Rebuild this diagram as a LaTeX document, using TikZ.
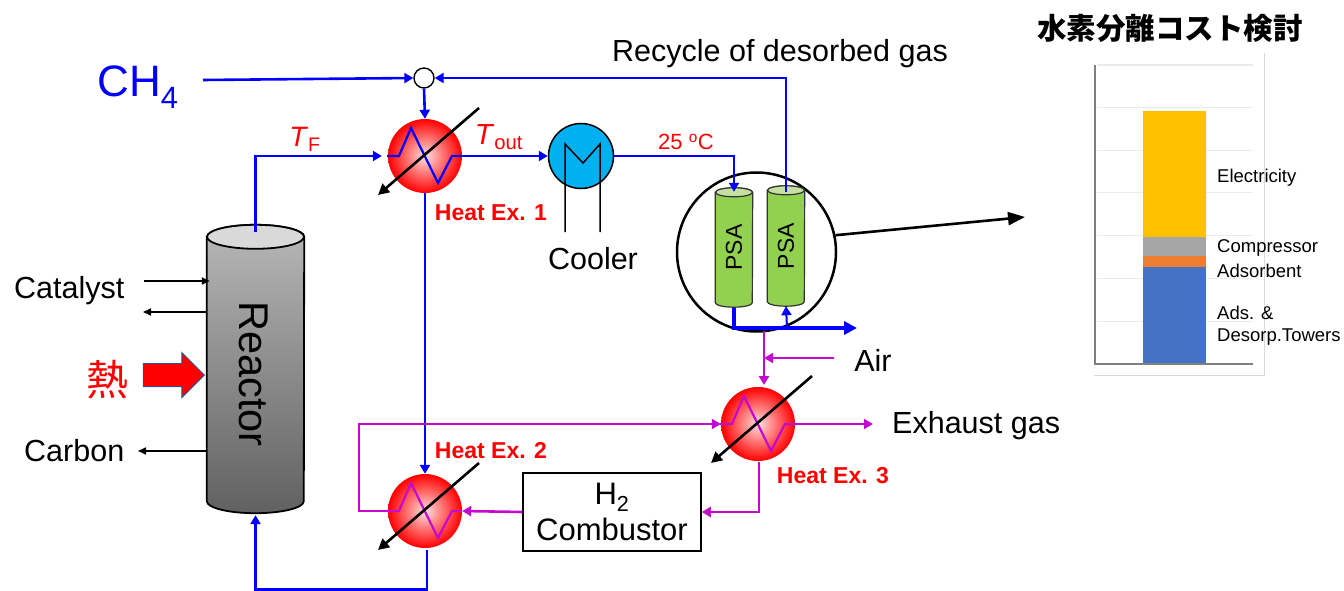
\documentclass[tikz,border=0pt]{standalone}
\usepackage{fontspec}
\setmainfont{Liberation Sans}
\newfontfamily\cjk{Noto Sans CJK JP}
\usetikzlibrary{arrows.meta,positioning,calc,shapes.geometric,shapes.arrows}
\definecolor{flow}{RGB}{0,0,255}
\definecolor{heat}{RGB}{196,10,208}
\definecolor{psagreen}{RGB}{146,208,80}
\definecolor{psacap}{RGB}{197,224,160}
\definecolor{coolblue}{RGB}{0,176,240}
\definecolor{c1}{RGB}{68,114,196}
\definecolor{c2}{RGB}{237,125,49}
\definecolor{c3}{RGB}{165,165,165}
\definecolor{c4}{RGB}{255,192,0}
\newcommand{\fsize}[1]{\fontsize{#1}{#1}\selectfont}
% can outline round a box node: name, radii, body style, cap style
\newcommand{\can}[5]{%
  \path[#4] ([yshift=-#3pt]#1.north west) -- ([yshift=#3pt]#1.south west)
    arc[start angle=180,end angle=360,x radius=#2pt,y radius=#3pt]
    -- ([yshift=-#3pt]#1.north east)
    arc[start angle=0,end angle=180,x radius=#2pt,y radius=#3pt] -- cycle;
  \path[#5] ([yshift=-#3pt]#1.north) ellipse (#2pt and #3pt);}

\begin{document}
\begin{tikzpicture}[x=1pt,y=-1pt,node distance=0pt,
  hxball/.style={circle,minimum size=74pt,inner sep=0pt,inner color=white!88!red,outer color=red},
  canbox/.style={rectangle,inner sep=0pt,minimum width=#1},
  flowline/.style={draw=flow,line width=2.6pt,-{Triangle[length=9pt,width=10pt]}},
  heatline/.style={draw=heat,line width=2.6pt,-{Triangle[length=9pt,width=10pt]}},
  thinline/.style={draw=black,line width=1.6pt,-{Triangle[length=8pt,width=7pt]}},
  txt/.style={inner sep=0pt,font=\fsize{30.5}},
  redlabel/.style={inner sep=0pt,text=red,font=\fsize{23}\bfseries},
  barlabel/.style={inner sep=0pt,anchor=west,font=\fsize{18.5}}]
  \useasboundingbox (0,0) rectangle (1344,591);

  % equipment
  \node (reactor) [canbox=97pt,minimum height=288pt] at (255.5,369) {};
  \can{reactor}{48.5}{12}{draw=black,line width=1.8pt,top color=black!28,bottom color=black!62}{draw=black,line width=1.8pt,fill=black!15}
  \node (reactortxt) [rotate=-90,inner sep=0pt,font=\fsize{41.5}] at (254,374) {Reactor};

  \node (mixer) [circle,draw=black,line width=1.4pt,fill=white,minimum size=20pt,inner sep=0pt] at (424,78) {};
  \node (hx1) [hxball] at (425,156) {};
  \node (hx2) [hxball] at (425,511) {};
  \node (hx3) [hxball] at (758,424) {};
  \node (cooler) [circle,draw=black,line width=1.5pt,fill=coolblue,minimum size=65pt,inner sep=0pt] at (581,156) {};
  \node (psaring) [circle,draw=black,line width=2.5pt,minimum size=159pt,inner sep=0pt] at (756.5,252) {};
  \node (psa1) [canbox=37pt,minimum height=119pt] at (734,247.5) {};
  \node (psa2) [canbox=37pt,minimum height=120pt] at (786,246) {};
  \foreach \n in {psa1,psa2}{
    \can{\n}{18.5}{4.5}{draw=black!80,line width=1.2pt,fill=psagreen}{draw=black!80,line width=1.2pt,fill=psacap}
    \node (\n txt) [rotate=90,inner sep=0pt,font=\fsize{23}] at (\n) {PSA};
  }
  \node (burner) [draw=black,line width=1.5pt,minimum width=178pt,minimum height=78pt,inner sep=0pt,
    align=center,font=\fsize{31}] at (612,512) {H\textsubscript{2}\\[5pt]Combustor};

  % coils and adjusters
  \foreach \hx/\col in {hx1/flow,hx2/heat,hx3/heat}{
    \draw[\col,line width=2.2pt,shift={(\hx)}] (-38,0) -- (-26,0) -- (-14,-28) -- (13,27) -- (27,0) -- (37,0);
    \draw[black,line width=2.6pt,-{Triangle[length=11pt,width=11pt]},shift={(\hx)}] (54,-48) -- (-47,39);
  }
  \draw[black,line width=1.5pt] (565,232) -- (565,144) -- (583,163) -- (600,144) -- (600,232);

  % free ends
  \coordinate (ch4in) at (203,80);
  \coordinate (psaout) at (857,328);
  \coordinate (airin) at (834,358);
  \coordinate (airjoin) at (764,358);
  \coordinate (exhaust) at (873,424);
  \coordinate (chart) at (1025,217);
  \coordinate (catin) at (144,281);
  \coordinate (catout) at (143,312);
  \coordinate (carbonout) at (138,451);

  % blue lines
  \draw[flowline] (ch4in) -- (mixer.west);
  \draw[flowline] (psa2.north) ++(0,6) |- (mixer.east);
  \draw[flowline] (mixer.south) -- (hx1.north);
  \draw[flowline,shorten >=6pt] (reactor.north) ++(0,7) |- (hx1.west);
  \draw[flowline] (hx1.east) -- (cooler.west);
  \draw[flowline] (cooler.east) -| ([yshift=-4pt]psa1.north);
  \draw[flowline] (hx1.south) -- (hx2.north);
  \draw[flowline] ([xshift=2pt,yshift=-2pt]hx2.south) -- ++(0,39) -| ([yshift=-2pt]reactor.south);
  \draw[draw=flow,line width=4.4pt,-{Triangle[length=13pt,width=13pt]}] (psa1.south) ++(0,1) |- (psaout);
  \draw[flowline,line width=2pt] (787,328) -- (psa2.south);

  % purple lines
  \draw[heatline] (764,331) -- (764,385);
  \draw[heatline,line width=1.6pt] (airin) -- (airjoin);
  \draw[heatline] (hx3.east) -- (exhaust);
  \draw[heatline] ([xshift=1pt,yshift=-1pt]hx3.south) |- (burner.east);
  \draw[heatline] (burner.west) -- (hx2.east);
  \draw[heatline] (hx2.west) -- ++(-29,0) |- (hx3.west);

  % black lines
  \draw[black,line width=2.6pt,-{Triangle[length=17pt,width=13pt]}] (psaring.12) -- (chart);
  \draw[thinline] (catin) -- ([xshift=3pt]reactor.west |- catin);
  \draw[thinline] (reactor.west |- catout) -- (catout);
  \draw[thinline] (reactor.west |- carbonout) -- (carbonout);
  \node (heatin) [single arrow,draw={rgb,255:red,47;green,82;blue,143},line width=1pt,fill=red,inner sep=0pt,
    text height=22pt,text depth=0pt,minimum height=61pt,single arrow head extend=11pt,single arrow tip angle=90,anchor=tip] at (205,375) {};

  % labels
  \node (ch4) [inner sep=0pt,text=flow,font=\fsize{44}] at (138,87) {CH\textsubscript{4}};
  \node (recycle) [txt] at (780,53.5) {Recycle of desorbed gas};
  \node (tf) [inner sep=0pt,text=red,font=\fsize{28}] at (305,139) {\textit{T}\textsubscript{F}};
  \node (tout) [inner sep=0pt,text=red,font=\fsize{29}] at (499,137) {\textit{T}\textsubscript{out}};
  \node (temp) [inner sep=0pt,text=red,font=\fsize{22}] at (686,142) {25 \textsuperscript{o}C};
  \node (coolertxt) [txt] at (593,259) {Cooler};
  \node (airtxt) [txt] at (873,360) {Air};
  \node (exhausttxt) [txt,anchor=west] at (892,426) {Exhaust gas};
  \node (cattxt) [txt,anchor=west] at (14,291) {Catalyst};
  \node (carbontxt) [txt,anchor=west] at (24,451) {Carbon};
  \node (netsu) [inner sep=0pt,text=red,font=\cjk\fsize{42}] at (107,380) {熱};
  \node (hx1txt) [redlabel] at (491,213) {Heat Ex. 1};
  \node (hx2txt) [redlabel] at (491,451) {Heat Ex. 2};
  \node (hx3txt) [redlabel] at (833,476) {Heat Ex. 3};

  % cost chart
  \node (title) [inner sep=0pt,font=\cjk\fsize{29.5}\bfseries] at (1170,28) {水素分離コスト検討};
  \draw[black!15,line width=1pt] (1264,53) -- (1264,375) -- (1094,375);
  \foreach \y in {65,107.7,150.3,192.7,235.7,278.3,321.3}{
    \draw[black!8,line width=1.2pt] (1097,\y) -- (1253,\y);
  }
  \fill[c1] (1143,267) rectangle (1206,364);
  \fill[c2] (1143,255.5) rectangle (1206,267);
  \fill[c3] (1143,237) rectangle (1206,255.5);
  \fill[c4] (1143,111) rectangle (1206,237);
  \draw[black!50,line width=1.4pt] (1095,65) -- (1095,364) -- (1253,364);
  \foreach \name/\y/\lbl in {lbla/178/Electricity,
                             lblb/248/Compressor,
                             lblc/271/Adsorbent,
                             lbld/313/Ads. \&,
                             lble/337/Desorp.Towers}{
    \node (\name) [barlabel] at (1217,\y) {\lbl};
  }
\end{tikzpicture}
\end{document}
